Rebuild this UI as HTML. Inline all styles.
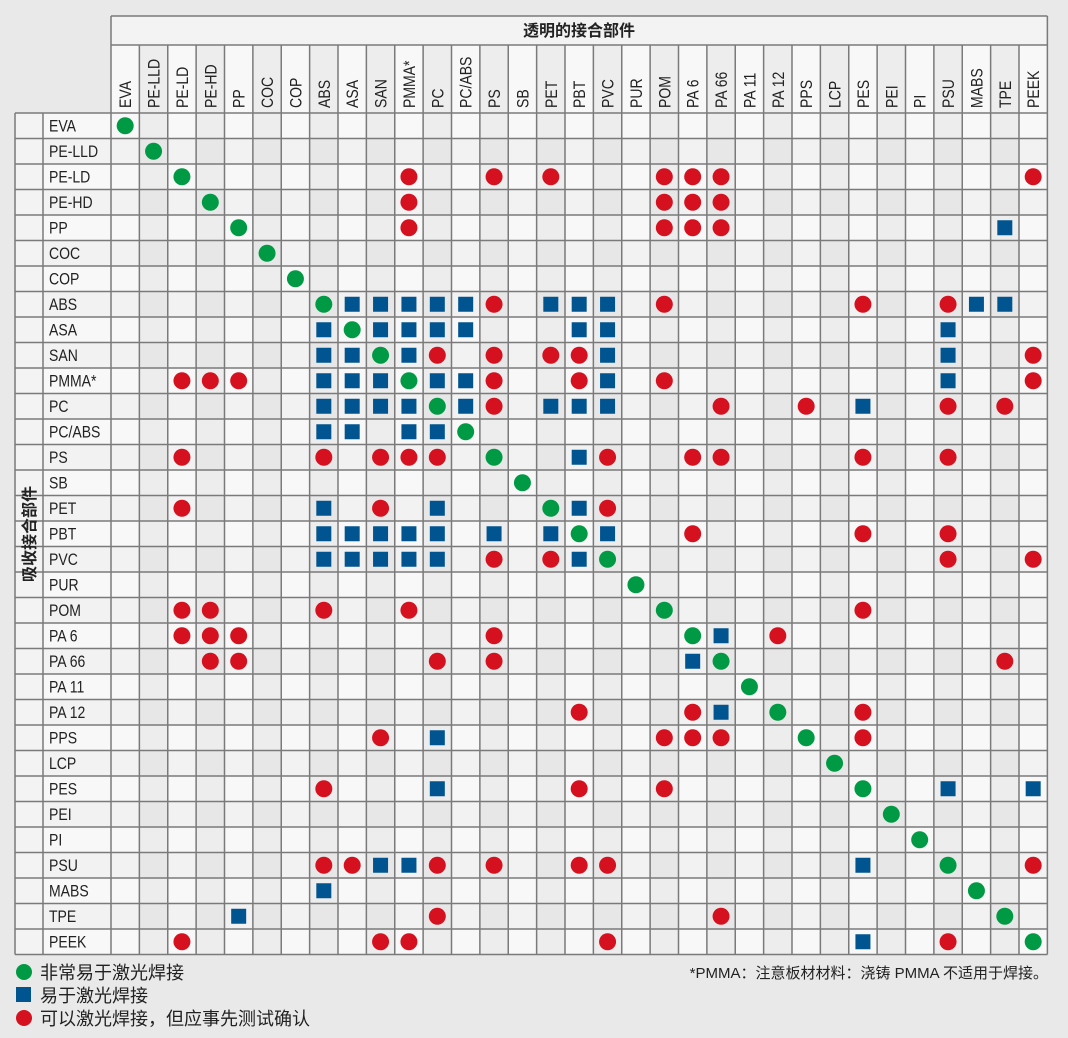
<!DOCTYPE html>
<html><head><meta charset="utf-8"><style>
html,body{margin:0;padding:0;background:#e9e9e9;}
svg{display:block;}
.t{font-family:"Liberation Sans","Noto Sans CJK SC",sans-serif;font-size:16.5px;fill:#222;}
.c{font-family:"Liberation Sans","Noto Sans CJK SC",sans-serif;fill:#222;}
</style></head><body>
<svg width="1068" height="1038" viewBox="0 0 1068 1038" xmlns="http://www.w3.org/2000/svg">
<defs>
<ellipse id="g" rx="0.2996" ry="0.3333" fill="#009a44"/>
<ellipse id="r" rx="0.2996" ry="0.3333" fill="#d5101f"/>
<rect id="b" x="-0.2643" y="-0.294" width="0.5286" height="0.588" fill="#00548f"/>
</defs>
<rect width="1068" height="1038" fill="#e9e9e9"/>
<rect x="111" y="16" width="937" height="29" fill="#f3f3f3"/>
<rect x="15" y="113" width="28" height="842" fill="#f3f3f3"/>
<g transform="translate(111 113) scale(28.375 25.5)">
<rect x="0" y="-2.667" width="33" height="35.667" fill="#f8f8f8"/>
<rect x="-2.3965" y="0" width="2.3965" height="33" fill="#f8f8f8"/>
<g fill="rgba(0,0,0,0.045)">
<rect x="1" y="-2.667" width="1" height="35.667"/><rect x="3" y="-2.667" width="1" height="35.667"/><rect x="5" y="-2.667" width="1" height="35.667"/><rect x="7" y="-2.667" width="1" height="35.667"/><rect x="9" y="-2.667" width="1" height="35.667"/><rect x="11" y="-2.667" width="1" height="35.667"/><rect x="13" y="-2.667" width="1" height="35.667"/><rect x="15" y="-2.667" width="1" height="35.667"/><rect x="17" y="-2.667" width="1" height="35.667"/><rect x="19" y="-2.667" width="1" height="35.667"/><rect x="21" y="-2.667" width="1" height="35.667"/><rect x="23" y="-2.667" width="1" height="35.667"/><rect x="25" y="-2.667" width="1" height="35.667"/><rect x="27" y="-2.667" width="1" height="35.667"/><rect x="29" y="-2.667" width="1" height="35.667"/><rect x="31" y="-2.667" width="1" height="35.667"/>
</g>
<g fill="rgba(0,0,0,0.025)">
<rect x="-2.3965" y="1" width="35.3965" height="1"/><rect x="-2.3965" y="3" width="35.3965" height="1"/><rect x="-2.3965" y="5" width="35.3965" height="1"/><rect x="-2.3965" y="7" width="35.3965" height="1"/><rect x="-2.3965" y="9" width="35.3965" height="1"/><rect x="-2.3965" y="11" width="35.3965" height="1"/><rect x="-2.3965" y="13" width="35.3965" height="1"/><rect x="-2.3965" y="15" width="35.3965" height="1"/><rect x="-2.3965" y="17" width="35.3965" height="1"/><rect x="-2.3965" y="19" width="35.3965" height="1"/><rect x="-2.3965" y="21" width="35.3965" height="1"/><rect x="-2.3965" y="23" width="35.3965" height="1"/><rect x="-2.3965" y="25" width="35.3965" height="1"/><rect x="-2.3965" y="27" width="35.3965" height="1"/><rect x="-2.3965" y="29" width="35.3965" height="1"/><rect x="-2.3965" y="31" width="35.3965" height="1"/>
</g>
<g stroke="#7a7a7a" stroke-width="1.5" fill="none">
<path vector-effect="non-scaling-stroke" d="M0 -2.667V33M1 -2.667V33M2 -2.667V33M3 -2.667V33M4 -2.667V33M5 -2.667V33M6 -2.667V33M7 -2.667V33M8 -2.667V33M9 -2.667V33M10 -2.667V33M11 -2.667V33M12 -2.667V33M13 -2.667V33M14 -2.667V33M15 -2.667V33M16 -2.667V33M17 -2.667V33M18 -2.667V33M19 -2.667V33M20 -2.667V33M21 -2.667V33M22 -2.667V33M23 -2.667V33M24 -2.667V33M25 -2.667V33M26 -2.667V33M27 -2.667V33M28 -2.667V33M29 -2.667V33M30 -2.667V33M31 -2.667V33M32 -2.667V33M33 -3.804V33M0 -3.804V-2.667M0 -3.804H33M0 -2.667H33"/>
<path vector-effect="non-scaling-stroke" d="M-3.383 0H33M-3.383 1H33M-3.383 2H33M-3.383 3H33M-3.383 4H33M-3.383 5H33M-3.383 6H33M-3.383 7H33M-3.383 8H33M-3.383 9H33M-3.383 10H33M-3.383 11H33M-3.383 12H33M-3.383 13H33M-3.383 14H33M-3.383 15H33M-3.383 16H33M-3.383 17H33M-3.383 18H33M-3.383 19H33M-3.383 20H33M-3.383 21H33M-3.383 22H33M-3.383 23H33M-3.383 24H33M-3.383 25H33M-3.383 26H33M-3.383 27H33M-3.383 28H33M-3.383 29H33M-3.383 30H33M-3.383 31H33M-3.383 32H33M-3.383 33H33M-3.383 0V33M-2.3965 0V33"/>
</g>
<g transform="translate(0.5 0.5)">
<use href="#g" x="0" y="0"/>
<use href="#g" x="1" y="1"/>
<use href="#g" x="2" y="2"/><use href="#r" x="10" y="2"/><use href="#r" x="13" y="2"/><use href="#r" x="15" y="2"/><use href="#r" x="19" y="2"/><use href="#r" x="20" y="2"/><use href="#r" x="21" y="2"/><use href="#r" x="32" y="2"/>
<use href="#g" x="3" y="3"/><use href="#r" x="10" y="3"/><use href="#r" x="19" y="3"/><use href="#r" x="20" y="3"/><use href="#r" x="21" y="3"/>
<use href="#g" x="4" y="4"/><use href="#r" x="10" y="4"/><use href="#r" x="19" y="4"/><use href="#r" x="20" y="4"/><use href="#r" x="21" y="4"/><use href="#b" x="31" y="4"/>
<use href="#g" x="5" y="5"/>
<use href="#g" x="6" y="6"/>
<use href="#g" x="7" y="7"/><use href="#b" x="8" y="7"/><use href="#b" x="9" y="7"/><use href="#b" x="10" y="7"/><use href="#b" x="11" y="7"/><use href="#b" x="12" y="7"/><use href="#r" x="13" y="7"/><use href="#b" x="15" y="7"/><use href="#b" x="16" y="7"/><use href="#b" x="17" y="7"/><use href="#r" x="19" y="7"/><use href="#r" x="26" y="7"/><use href="#r" x="29" y="7"/><use href="#b" x="30" y="7"/><use href="#b" x="31" y="7"/>
<use href="#b" x="7" y="8"/><use href="#g" x="8" y="8"/><use href="#b" x="9" y="8"/><use href="#b" x="10" y="8"/><use href="#b" x="11" y="8"/><use href="#b" x="12" y="8"/><use href="#b" x="16" y="8"/><use href="#b" x="17" y="8"/><use href="#b" x="29" y="8"/>
<use href="#b" x="7" y="9"/><use href="#b" x="8" y="9"/><use href="#g" x="9" y="9"/><use href="#b" x="10" y="9"/><use href="#r" x="11" y="9"/><use href="#r" x="13" y="9"/><use href="#r" x="15" y="9"/><use href="#r" x="16" y="9"/><use href="#b" x="17" y="9"/><use href="#b" x="29" y="9"/><use href="#r" x="32" y="9"/>
<use href="#r" x="2" y="10"/><use href="#r" x="3" y="10"/><use href="#r" x="4" y="10"/><use href="#b" x="7" y="10"/><use href="#b" x="8" y="10"/><use href="#b" x="9" y="10"/><use href="#g" x="10" y="10"/><use href="#b" x="11" y="10"/><use href="#b" x="12" y="10"/><use href="#r" x="13" y="10"/><use href="#r" x="16" y="10"/><use href="#b" x="17" y="10"/><use href="#r" x="19" y="10"/><use href="#b" x="29" y="10"/><use href="#r" x="32" y="10"/>
<use href="#b" x="7" y="11"/><use href="#b" x="8" y="11"/><use href="#b" x="9" y="11"/><use href="#b" x="10" y="11"/><use href="#g" x="11" y="11"/><use href="#b" x="12" y="11"/><use href="#r" x="13" y="11"/><use href="#b" x="15" y="11"/><use href="#b" x="16" y="11"/><use href="#b" x="17" y="11"/><use href="#r" x="21" y="11"/><use href="#r" x="24" y="11"/><use href="#b" x="26" y="11"/><use href="#r" x="29" y="11"/><use href="#r" x="31" y="11"/>
<use href="#b" x="7" y="12"/><use href="#b" x="8" y="12"/><use href="#b" x="10" y="12"/><use href="#b" x="11" y="12"/><use href="#g" x="12" y="12"/>
<use href="#r" x="2" y="13"/><use href="#r" x="7" y="13"/><use href="#r" x="9" y="13"/><use href="#r" x="10" y="13"/><use href="#r" x="11" y="13"/><use href="#g" x="13" y="13"/><use href="#b" x="16" y="13"/><use href="#r" x="17" y="13"/><use href="#r" x="20" y="13"/><use href="#r" x="21" y="13"/><use href="#r" x="26" y="13"/><use href="#r" x="29" y="13"/>
<use href="#g" x="14" y="14"/>
<use href="#r" x="2" y="15"/><use href="#b" x="7" y="15"/><use href="#r" x="9" y="15"/><use href="#b" x="11" y="15"/><use href="#g" x="15" y="15"/><use href="#b" x="16" y="15"/><use href="#r" x="17" y="15"/>
<use href="#b" x="7" y="16"/><use href="#b" x="8" y="16"/><use href="#b" x="9" y="16"/><use href="#b" x="10" y="16"/><use href="#b" x="11" y="16"/><use href="#b" x="13" y="16"/><use href="#b" x="15" y="16"/><use href="#g" x="16" y="16"/><use href="#b" x="17" y="16"/><use href="#r" x="20" y="16"/><use href="#r" x="26" y="16"/><use href="#r" x="29" y="16"/>
<use href="#b" x="7" y="17"/><use href="#b" x="8" y="17"/><use href="#b" x="9" y="17"/><use href="#b" x="10" y="17"/><use href="#b" x="11" y="17"/><use href="#r" x="13" y="17"/><use href="#r" x="15" y="17"/><use href="#b" x="16" y="17"/><use href="#g" x="17" y="17"/><use href="#r" x="29" y="17"/><use href="#r" x="32" y="17"/>
<use href="#g" x="18" y="18"/>
<use href="#r" x="2" y="19"/><use href="#r" x="3" y="19"/><use href="#r" x="7" y="19"/><use href="#r" x="10" y="19"/><use href="#g" x="19" y="19"/><use href="#r" x="26" y="19"/>
<use href="#r" x="2" y="20"/><use href="#r" x="3" y="20"/><use href="#r" x="4" y="20"/><use href="#r" x="13" y="20"/><use href="#g" x="20" y="20"/><use href="#b" x="21" y="20"/><use href="#r" x="23" y="20"/>
<use href="#r" x="3" y="21"/><use href="#r" x="4" y="21"/><use href="#r" x="11" y="21"/><use href="#r" x="13" y="21"/><use href="#b" x="20" y="21"/><use href="#g" x="21" y="21"/><use href="#r" x="31" y="21"/>
<use href="#g" x="22" y="22"/>
<use href="#r" x="16" y="23"/><use href="#r" x="20" y="23"/><use href="#b" x="21" y="23"/><use href="#g" x="23" y="23"/><use href="#r" x="26" y="23"/>
<use href="#r" x="9" y="24"/><use href="#b" x="11" y="24"/><use href="#r" x="19" y="24"/><use href="#r" x="20" y="24"/><use href="#r" x="21" y="24"/><use href="#g" x="24" y="24"/><use href="#r" x="26" y="24"/>
<use href="#g" x="25" y="25"/>
<use href="#r" x="7" y="26"/><use href="#b" x="11" y="26"/><use href="#r" x="16" y="26"/><use href="#r" x="19" y="26"/><use href="#g" x="26" y="26"/><use href="#b" x="29" y="26"/><use href="#b" x="32" y="26"/>
<use href="#g" x="27" y="27"/>
<use href="#g" x="28" y="28"/>
<use href="#r" x="7" y="29"/><use href="#r" x="8" y="29"/><use href="#b" x="9" y="29"/><use href="#b" x="10" y="29"/><use href="#r" x="11" y="29"/><use href="#r" x="13" y="29"/><use href="#r" x="16" y="29"/><use href="#r" x="17" y="29"/><use href="#b" x="26" y="29"/><use href="#g" x="29" y="29"/><use href="#r" x="32" y="29"/>
<use href="#b" x="7" y="30"/><use href="#g" x="30" y="30"/>
<use href="#b" x="4" y="31"/><use href="#r" x="11" y="31"/><use href="#r" x="21" y="31"/><use href="#g" x="31" y="31"/>
<use href="#r" x="2" y="32"/><use href="#r" x="9" y="32"/><use href="#r" x="10" y="32"/><use href="#r" x="17" y="32"/><use href="#b" x="26" y="32"/><use href="#r" x="29" y="32"/><use href="#g" x="32" y="32"/>
</g>
</g>
<text class="c" x="579" y="36" font-size="16" font-weight="bold" text-anchor="middle">透明的接合部件</text>
<text class="c" transform="translate(35 534) rotate(-90)" font-size="16" font-weight="bold" text-anchor="middle">吸收接合部件</text>
<g class="t">
<text transform="translate(131 108) rotate(-90) scale(0.85 1)">EVA</text>
<text transform="translate(159.5 108) rotate(-90) scale(0.85 1)">PE-LLD</text>
<text transform="translate(188 108) rotate(-90) scale(0.85 1)">PE-LD</text>
<text transform="translate(216.3 108) rotate(-90) scale(0.85 1)">PE-HD</text>
<text transform="translate(244.7 108) rotate(-90) scale(0.85 1)">PP</text>
<text transform="translate(273 108) rotate(-90) scale(0.85 1)">COC</text>
<text transform="translate(301.4 108) rotate(-90) scale(0.85 1)">COP</text>
<text transform="translate(329.8 108) rotate(-90) scale(0.85 1)">ABS</text>
<text transform="translate(358.2 108) rotate(-90) scale(0.85 1)">ASA</text>
<text transform="translate(386.5 108) rotate(-90) scale(0.85 1)">SAN</text>
<text transform="translate(414.9 108) rotate(-90) scale(0.85 1)">PMMA*</text>
<text transform="translate(443.3 108) rotate(-90) scale(0.85 1)">PC</text>
<text transform="translate(471.7 108) rotate(-90) scale(0.85 1)">PC/ABS</text>
<text transform="translate(500 108) rotate(-90) scale(0.85 1)">PS</text>
<text transform="translate(528.4 108) rotate(-90) scale(0.85 1)">SB</text>
<text transform="translate(556.8 108) rotate(-90) scale(0.85 1)">PET</text>
<text transform="translate(585.2 108) rotate(-90) scale(0.85 1)">PBT</text>
<text transform="translate(613.5 108) rotate(-90) scale(0.85 1)">PVC</text>
<text transform="translate(641.9 108) rotate(-90) scale(0.85 1)">PUR</text>
<text transform="translate(670.3 108) rotate(-90) scale(0.85 1)">POM</text>
<text transform="translate(698.7 108) rotate(-90) scale(0.85 1)">PA 6</text>
<text transform="translate(727 108) rotate(-90) scale(0.85 1)">PA 66</text>
<text transform="translate(755.4 108) rotate(-90) scale(0.85 1)">PA 11</text>
<text transform="translate(783.8 108) rotate(-90) scale(0.85 1)">PA 12</text>
<text transform="translate(812.2 108) rotate(-90) scale(0.85 1)">PPS</text>
<text transform="translate(840.5 108) rotate(-90) scale(0.85 1)">LCP</text>
<text transform="translate(868.9 108) rotate(-90) scale(0.85 1)">PES</text>
<text transform="translate(897.3 108) rotate(-90) scale(0.85 1)">PEI</text>
<text transform="translate(925.7 108) rotate(-90) scale(0.85 1)">PI</text>
<text transform="translate(954 108) rotate(-90) scale(0.85 1)">PSU</text>
<text transform="translate(982.4 108) rotate(-90) scale(0.85 1)">MABS</text>
<text transform="translate(1010.8 108) rotate(-90) scale(0.85 1)">TPE</text>
<text transform="translate(1039.2 108) rotate(-90) scale(0.85 1)">PEEK</text>
</g>
<g class="t" transform="translate(49 0) scale(0.85 1)">
<text x="0" y="131.5">EVA</text>
<text x="0" y="157">PE-LLD</text>
<text x="0" y="182.5">PE-LD</text>
<text x="0" y="208">PE-HD</text>
<text x="0" y="233.5">PP</text>
<text x="0" y="259">COC</text>
<text x="0" y="284.5">COP</text>
<text x="0" y="310">ABS</text>
<text x="0" y="335.5">ASA</text>
<text x="0" y="361">SAN</text>
<text x="0" y="386.5">PMMA*</text>
<text x="0" y="412">PC</text>
<text x="0" y="437.5">PC/ABS</text>
<text x="0" y="463">PS</text>
<text x="0" y="488.5">SB</text>
<text x="0" y="514">PET</text>
<text x="0" y="539.5">PBT</text>
<text x="0" y="565">PVC</text>
<text x="0" y="590.5">PUR</text>
<text x="0" y="616">POM</text>
<text x="0" y="641.5">PA 6</text>
<text x="0" y="667">PA 66</text>
<text x="0" y="692.5">PA 11</text>
<text x="0" y="718">PA 12</text>
<text x="0" y="743.5">PPS</text>
<text x="0" y="769">LCP</text>
<text x="0" y="794.5">PES</text>
<text x="0" y="820">PEI</text>
<text x="0" y="845.5">PI</text>
<text x="0" y="871">PSU</text>
<text x="0" y="896.5">MABS</text>
<text x="0" y="922">TPE</text>
<text x="0" y="947.5">PEEK</text>
</g>
<circle cx="24" cy="972" r="8" fill="#009a44"/>
<rect x="16" y="987" width="15" height="15" fill="#00548f"/>
<circle cx="24" cy="1018" r="8" fill="#d5101f"/>
<text class="c" x="40" y="979" font-size="18">非常易于激光焊接</text>
<text class="c" x="40" y="1002" font-size="18">易于激光焊接</text>
<text class="c" x="40" y="1025" font-size="18">可以激光焊接，但应事先测试确认</text>
<text class="c" x="1048" y="978" font-size="15" text-anchor="end">*PMMA：注意板材材料：浇铸 PMMA 不适用于焊接。</text>
</svg>
</body></html>
